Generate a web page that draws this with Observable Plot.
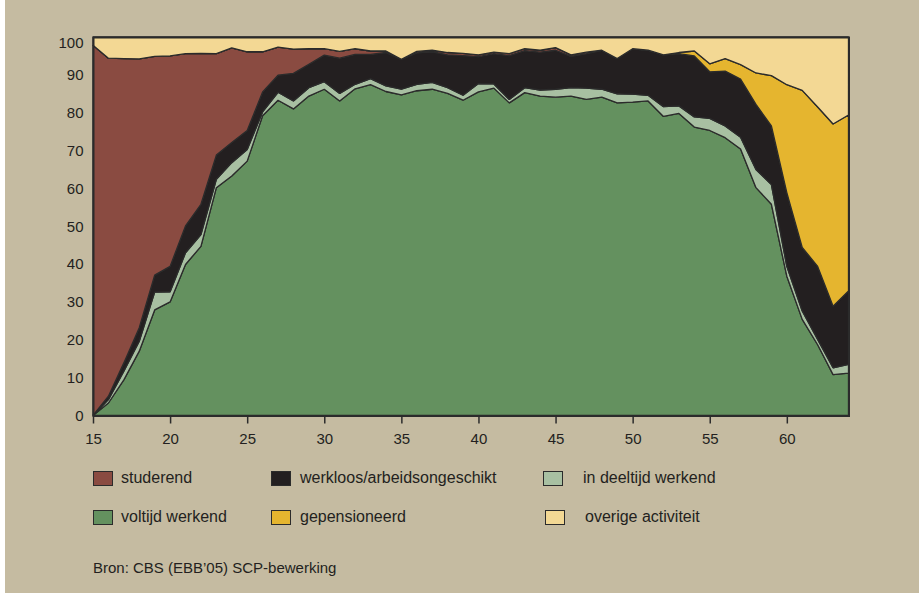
<!DOCTYPE html>
<html>
<head>
<meta charset="utf-8">
<script src="https://cdn.jsdelivr.net/npm/d3@7"></script>
<script src="https://cdn.jsdelivr.net/npm/@observablehq/plot@0.6"></script>
<style>
  html, body { margin: 0; padding: 0; background: #ffffff; }
  body { width: 919px; height: 596px; position: relative; overflow: hidden;
         font-family: "Liberation Sans", Arial, sans-serif; color: #231f20; }
  #panel { position: absolute; left: 5px; top: 0; width: 914px; height: 593px; background: #c5bba1; }
  #chart { position: absolute; left: 0; top: 0; }
  .leg { position: absolute; font-size: 16px; line-height: 16px; white-space: nowrap; }
  .sw { position: absolute; width: 18px; height: 13px; border: 1px solid #2b2b2b; }
  #caption { position: absolute; left: 93px; top: 559px; font-size: 15px; white-space: nowrap; }
</style>
</head>
<body>
<div id="panel"></div>
<div id="chart"></div>
<div id="legend"></div>
<div id="caption">Bron: CBS (EBB’05) SCP-bewerking</div>
<script>
// Ages (x axis)
const ages = d3.range(15, 65);

// Series names (stack order from bottom to top)
const seriesNames = ["voltijd werkend", "in deeltijd werkend", "werkloos/arbeidsongeschikt",
  "studerend", "gepensioneerd", "overige activiteit"];

// Percentages per age
const voltijd = [0, 3.3, 9.4, 17.0, 27.9, 30.0, 39.9, 44.7, 60.2, 63.3,
  67.2, 79.2, 83.3, 81.0, 84.4, 86.2, 83.1, 86.3, 87.4, 85.6,
  84.7, 85.8, 86.2, 85.1, 83.3, 85.5, 86.5, 82.6, 85.3, 84.4,
  84.1, 84.4, 83.5, 84.1, 82.6, 82.8, 83.1, 79.0, 79.8, 76.2,
  75.3, 73.4, 70.4, 60.2, 55.8, 36.8, 25.4, 18.7, 10.8, 11.2];
const deeltijd = [0, 0.9, 2.3, 2.6, 4.7, 2.7, 3.1, 3.1, 2.2, 3.5,
  3.1, 1.0, 2.1, 2.1, 2.2, 2.0, 2.0, 1.2, 1.6, 1.5,
  1.5, 1.7, 1.8, 1.5, 1.3, 2.2, 1.1, 0.9, 1.3, 1.6,
  2.1, 2.2, 3.0, 2.1, 2.4, 2.1, 1.5, 2.6, 2.0, 2.7,
  3.2, 3.1, 3.1, 4.8, 5.2, 2.6, 2.2, 1.4, 1.8, 2.3];
const werkloos = [0, 0.9, 2.2, 3.6, 4.5, 6.7, 7.1, 8.0, 6.4, 5.3,
  5.0, 5.3, 4.5, 7.3, 6.2, 7.0, 9.3, 7.9, 6.4, 8.8,
  7.9, 8.3, 8.1, 8.7, 10.5, 7.1, 8.0, 11.6, 9.8, 10.0,
  10.3, 8.3, 9.1, 10.3, 9.3, 12.0, 11.9, 13.7, 13.8, 16.1,
  12.3, 14.5, 15.4, 17.2, 15.5, 19.5, 16.8, 19.3, 16.3, 19.4];
const studerend = [97.8, 89.3, 80.4, 71.0, 57.8, 55.6, 45.5, 39.9, 26.8, 25.0,
  20.8, 10.6, 7.4, 6.4, 4.1, 1.7, 1.8, 1.5, 0.9, 0.4,
  0, 0.4, 0.4, 0.6, 0.6, 0.5, 0.4, 0.5, 0.5, 0.5,
  0.7, 0.4, 0.4, 0, 0, 0, 0, 0, 0, 0,
  0, 0, 0, 0, 0, 0, 0, 0, 0, 0];
const gepensioneerd = [0, 0, 0, 0, 0, 0, 0, 0, 0, 0,
  0, 0, 0, 0, 0, 0, 0, 0, 0, 0,
  0, 0, 0, 0, 0, 0, 0, 0, 0, 0,
  0, 0, 0, 0, 0, 0, 0, 0, 0.3, 1.3,
  2.1, 3.3, 3.8, 8.3, 13.3, 28.5, 41.5, 42.1, 48.1, 46.5];
const overige = [2.2, 5.6, 5.7, 5.8, 5.1, 5.0, 4.4, 4.3, 4.4, 2.9,
  3.9, 3.9, 2.7, 3.2, 3.1, 3.1, 3.8, 3.1, 3.7, 3.7,
  5.9, 3.8, 3.5, 4.1, 4.3, 4.7, 4.0, 4.4, 3.1, 3.5,
  2.8, 4.7, 4.0, 3.5, 5.7, 3.1, 3.5, 4.7, 4.1, 3.7,
  7.1, 5.7, 7.3, 9.5, 10.2, 12.6, 14.1, 18.5, 23.0, 20.6];

const xTicks = [15, 20, 25, 30, 35, 40, 45, 50, 55, 60];
const yTicks = [0, 10, 20, 30, 40, 50, 60, 70, 80, 90];

const colors = {
  "voltijd werkend": "#64915f",
  "in deeltijd werkend": "#a8c0a2",
  "werkloos/arbeidsongeschikt": "#231f20",
  "studerend": "#8a4b41",
  "gepensioneerd": "#e5b52f",
  "overige activiteit": "#f3d894"
};

const seriesValues = [voltijd, deeltijd, werkloos, studerend, gepensioneerd, overige];
const rows = [];
seriesNames.forEach((name, si) => {
  ages.forEach((a, i) => rows.push({age: a, series: name, value: seriesValues[si][i]}));
});

const W = 919, H = 460;
const chart = Plot.plot({
  width: W, height: H,
  marginLeft: 93, marginRight: 70.5, marginTop: 37, marginBottom: 44.5,
  style: {background: "transparent", fontFamily: "'Liberation Sans', Arial, sans-serif", color: "#231f20"},
  x: {domain: [15, 64]},
  y: {domain: [0, 100]},
  color: {domain: seriesNames, range: seriesNames.map(n => colors[n])},
  marks: [
    Plot.areaY(rows, {x: "age", y: "value", fill: "series", z: "series", order: seriesNames,
      stroke: "#2b2b2b", strokeWidth: 1.3, strokeLinejoin: "miter"}),
    Plot.frame({stroke: "#2b2b2b", strokeWidth: 2}),
    Plot.axisX({ticks: xTicks, tickSize: 8, tickPadding: 9, fontSize: 15, stroke: "#2b2b2b", strokeWidth: 1.5, label: null}),
    Plot.axisY({ticks: yTicks, tickSize: 0, tickPadding: 10, fontSize: 15, label: null}),
    Plot.axisY({ticks: [100], tickSize: 0, tickPadding: 10, fontSize: 15, dy: 6, label: null})
  ]
});
document.getElementById("chart").appendChild(chart);

// Legend (HTML, below the SVG)
const legendItems = [
  {name: "studerend", sx: 93, tx: 121, y: 478},
  {name: "werkloos/arbeidsongeschikt", sx: 271, tx: 300, y: 478},
  {name: "in deeltijd werkend", sx: 543, tx: 583, y: 478},
  {name: "voltijd werkend", sx: 93, tx: 121, y: 517},
  {name: "gepensioneerd", sx: 271, tx: 300, y: 517},
  {name: "overige activiteit", sx: 545, tx: 585, y: 517}
];
const leg = document.getElementById("legend");
legendItems.forEach(it => {
  const sw = document.createElement("div");
  sw.className = "sw";
  sw.style.left = it.sx + "px";
  sw.style.top = (it.y - 7.5) + "px";
  sw.style.background = colors[it.name];
  leg.appendChild(sw);
  const t = document.createElement("div");
  t.className = "leg";
  t.style.left = it.tx + "px";
  t.style.top = (it.y - 8) + "px";
  t.textContent = it.name;
  leg.appendChild(t);
});
</script>
</body>
</html>
